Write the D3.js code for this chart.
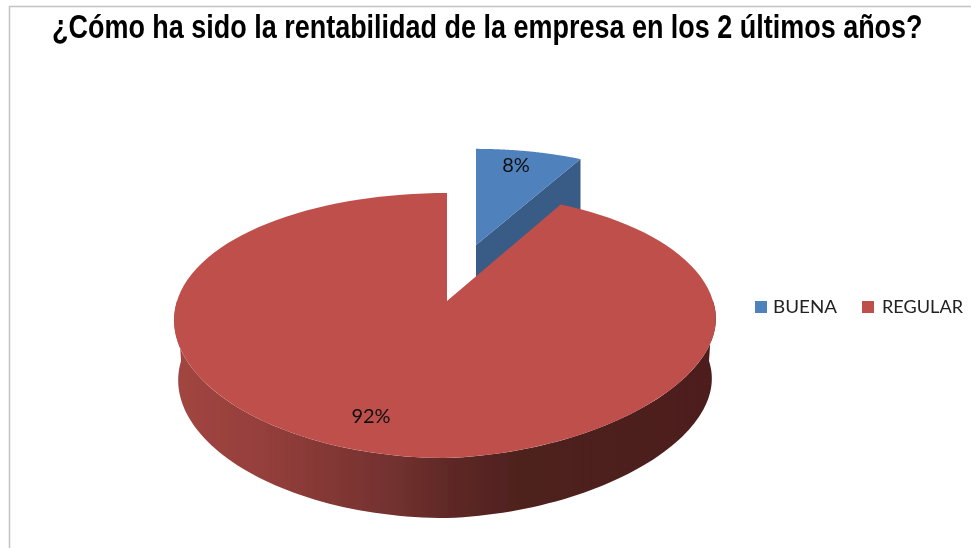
<!DOCTYPE html>
<html><head><meta charset="utf-8">
<script src="https://cdn.jsdelivr.net/npm/d3@7"></script>
<style>html,body{margin:0;padding:0;background:#fff}svg{display:block}</style>
</head><body><svg id="c" width="971" height="548"></svg>
<script>
const titleText = "¿Cómo ha sido la rentabilidad de la empresa en los 2 últimos años?";
const categories = ["BUENA", "REGULAR"];
const values = [8, 92];
const topColors = ["#4F81BD", "#BE504C"];
const wallColors = ["#375C85", "#8E3B39"];

const svg = d3.select("#c");
const defs = svg.append("defs");
const soft = defs.append("filter").attr("id","soft").attr("x","-5%").attr("y","-5%").attr("width","110%").attr("height","110%");
soft.append("feGaussianBlur").attr("stdDeviation",0.5);

const grad = defs.append("linearGradient").attr("id","wall")
  .attr("gradientUnits","userSpaceOnUse").attr("x1",174).attr("x2",716).attr("y1",0).attr("y2",0);
[[0,"#A24541"],[0.15,"#96403C"],[0.24,"#8A3A37"],[0.42,"#70302E"],[0.51,"#5F2826"],[0.64,"#4E201E"],[1,"#4D1F1D"]]
  .forEach(([o,c])=>grad.append("stop").attr("offset",o).attr("stop-color",c));

// frame
svg.append("path").attr("d","M9.5,548V6.5H971").attr("fill","none").attr("stroke","#c4c4c4").attr("stroke-width",1.5);

const color = d3.scaleOrdinal(categories, topColors);
const wall = d3.scaleOrdinal(categories, wallColors);
const pie = d3.pie().sort(null).value((d,i)=>values[i]);
const arcs = pie(categories);

// Perspective projection of the pie disc
const persp = {Rr:266, Rl:270, S:128, ky:0.185, kx:0.146, lift:12};
function project(a){
  const u=Math.sin(a), v=Math.cos(a);
  const R=u>=0?persp.Rr:persp.Rl;
  return [R*u/(1+persp.kx*v),
          -persp.S*v/(1+persp.ky*v) - persp.lift*Math.max(u,0)*Math.max(-v,0)];
}
const line = d3.line();
const sweep = (a0,a1)=>d3.range(0,121).map(i=>a0+(a1-a0)*i/120);

// placement of each slice on the page
const place = {
  BUENA:{x:476,y:245,sx:0.92,sy:0.89,depth:54},
  REGULAR:{x:447,y:301,sx:1,sy:1,depth:60}
};
const pt = (p,[x,y],dy=0,shr=1)=>[p.x+x*p.sx*shr, p.y+y*p.sy+dy];

function face(d){
  const p=place[d.data];
  const rim=sweep(d.startAngle,d.endAngle).map(a=>pt(p,project(a)));
  return line([[p.x,p.y],...rim])+"Z";
}

const g=svg.append("g").attr("filter","url(#soft)");
// BUENA cut wall (behind the red slice)
const b=arcs[0], bp=place.BUENA;
const bEnd=pt(bp,project(b.endAngle));
g.append("path").attr("d",line([[bp.x,bp.y],bEnd,[bEnd[0],bEnd[1]+bp.depth],[bp.x,bp.y+bp.depth]])+"Z")
  .attr("fill",wall("BUENA"));
g.append("path").attr("d",face(b)).attr("fill",color("BUENA"));

// REGULAR curved wall, then the top face
const r=arcs[1], rp=place.REGULAR;
const front=sweep(Math.PI/2,Math.PI*1.5);
const upper=front.map(a=>pt(rp,project(a)));
const lower=front.map(a=>pt(rp,project(a),rp.depth,0.985)).reverse();
g.append("path").attr("d",line([...upper,...lower])+"Z").attr("fill","url(#wall)");
g.append("path").attr("d",face(r)).attr("fill",color("REGULAR"));

// Data labels
const pctPos={BUENA:[516,172],REGULAR:[371,423]};
const labels=svg.append("g").attr("filter","url(#soft)");
arcs.forEach((d,i)=>{
  labels.append("text").attr("x",pctPos[d.data][0]).attr("y",pctPos[d.data][1])
    .attr("text-anchor","middle").attr("font-family","Lato, 'Open Sans', sans-serif")
    .attr("font-size",20).attr("fill","#111").text(values[i]+"%");
});

// Legend
const legendX=[755,862], legendTx=[773,882], legendW=[64,81];
const lg=svg.append("g").attr("filter","url(#soft)");
categories.forEach((c,i)=>{
  lg.append("rect").attr("x",legendX[i]).attr("y",301).attr("width",12).attr("height",12).attr("fill",color(c));
  lg.append("text").attr("x",legendTx[i]).attr("y",313).attr("font-family","Lato, 'Open Sans', sans-serif")
    .attr("font-size",18).attr("fill","#222").attr("textLength",legendW[i]).attr("lengthAdjust","spacingAndGlyphs").text(c);
});

// Title: sized so that its natural width fits, then fitted to the reference span
const titleSel = svg.append("text").attr("font-family","'Liberation Sans Narrow','Liberation Sans', Arial, sans-serif")
  .attr("font-weight",700).attr("font-size",33).attr("fill","#000")
  .attr("filter","url(#soft)").text(titleText);
const natural = titleSel.node().getComputedTextLength();
titleSel.attr("transform",`translate(52,38) scale(${871/natural},1)`);
</script></body></html>
